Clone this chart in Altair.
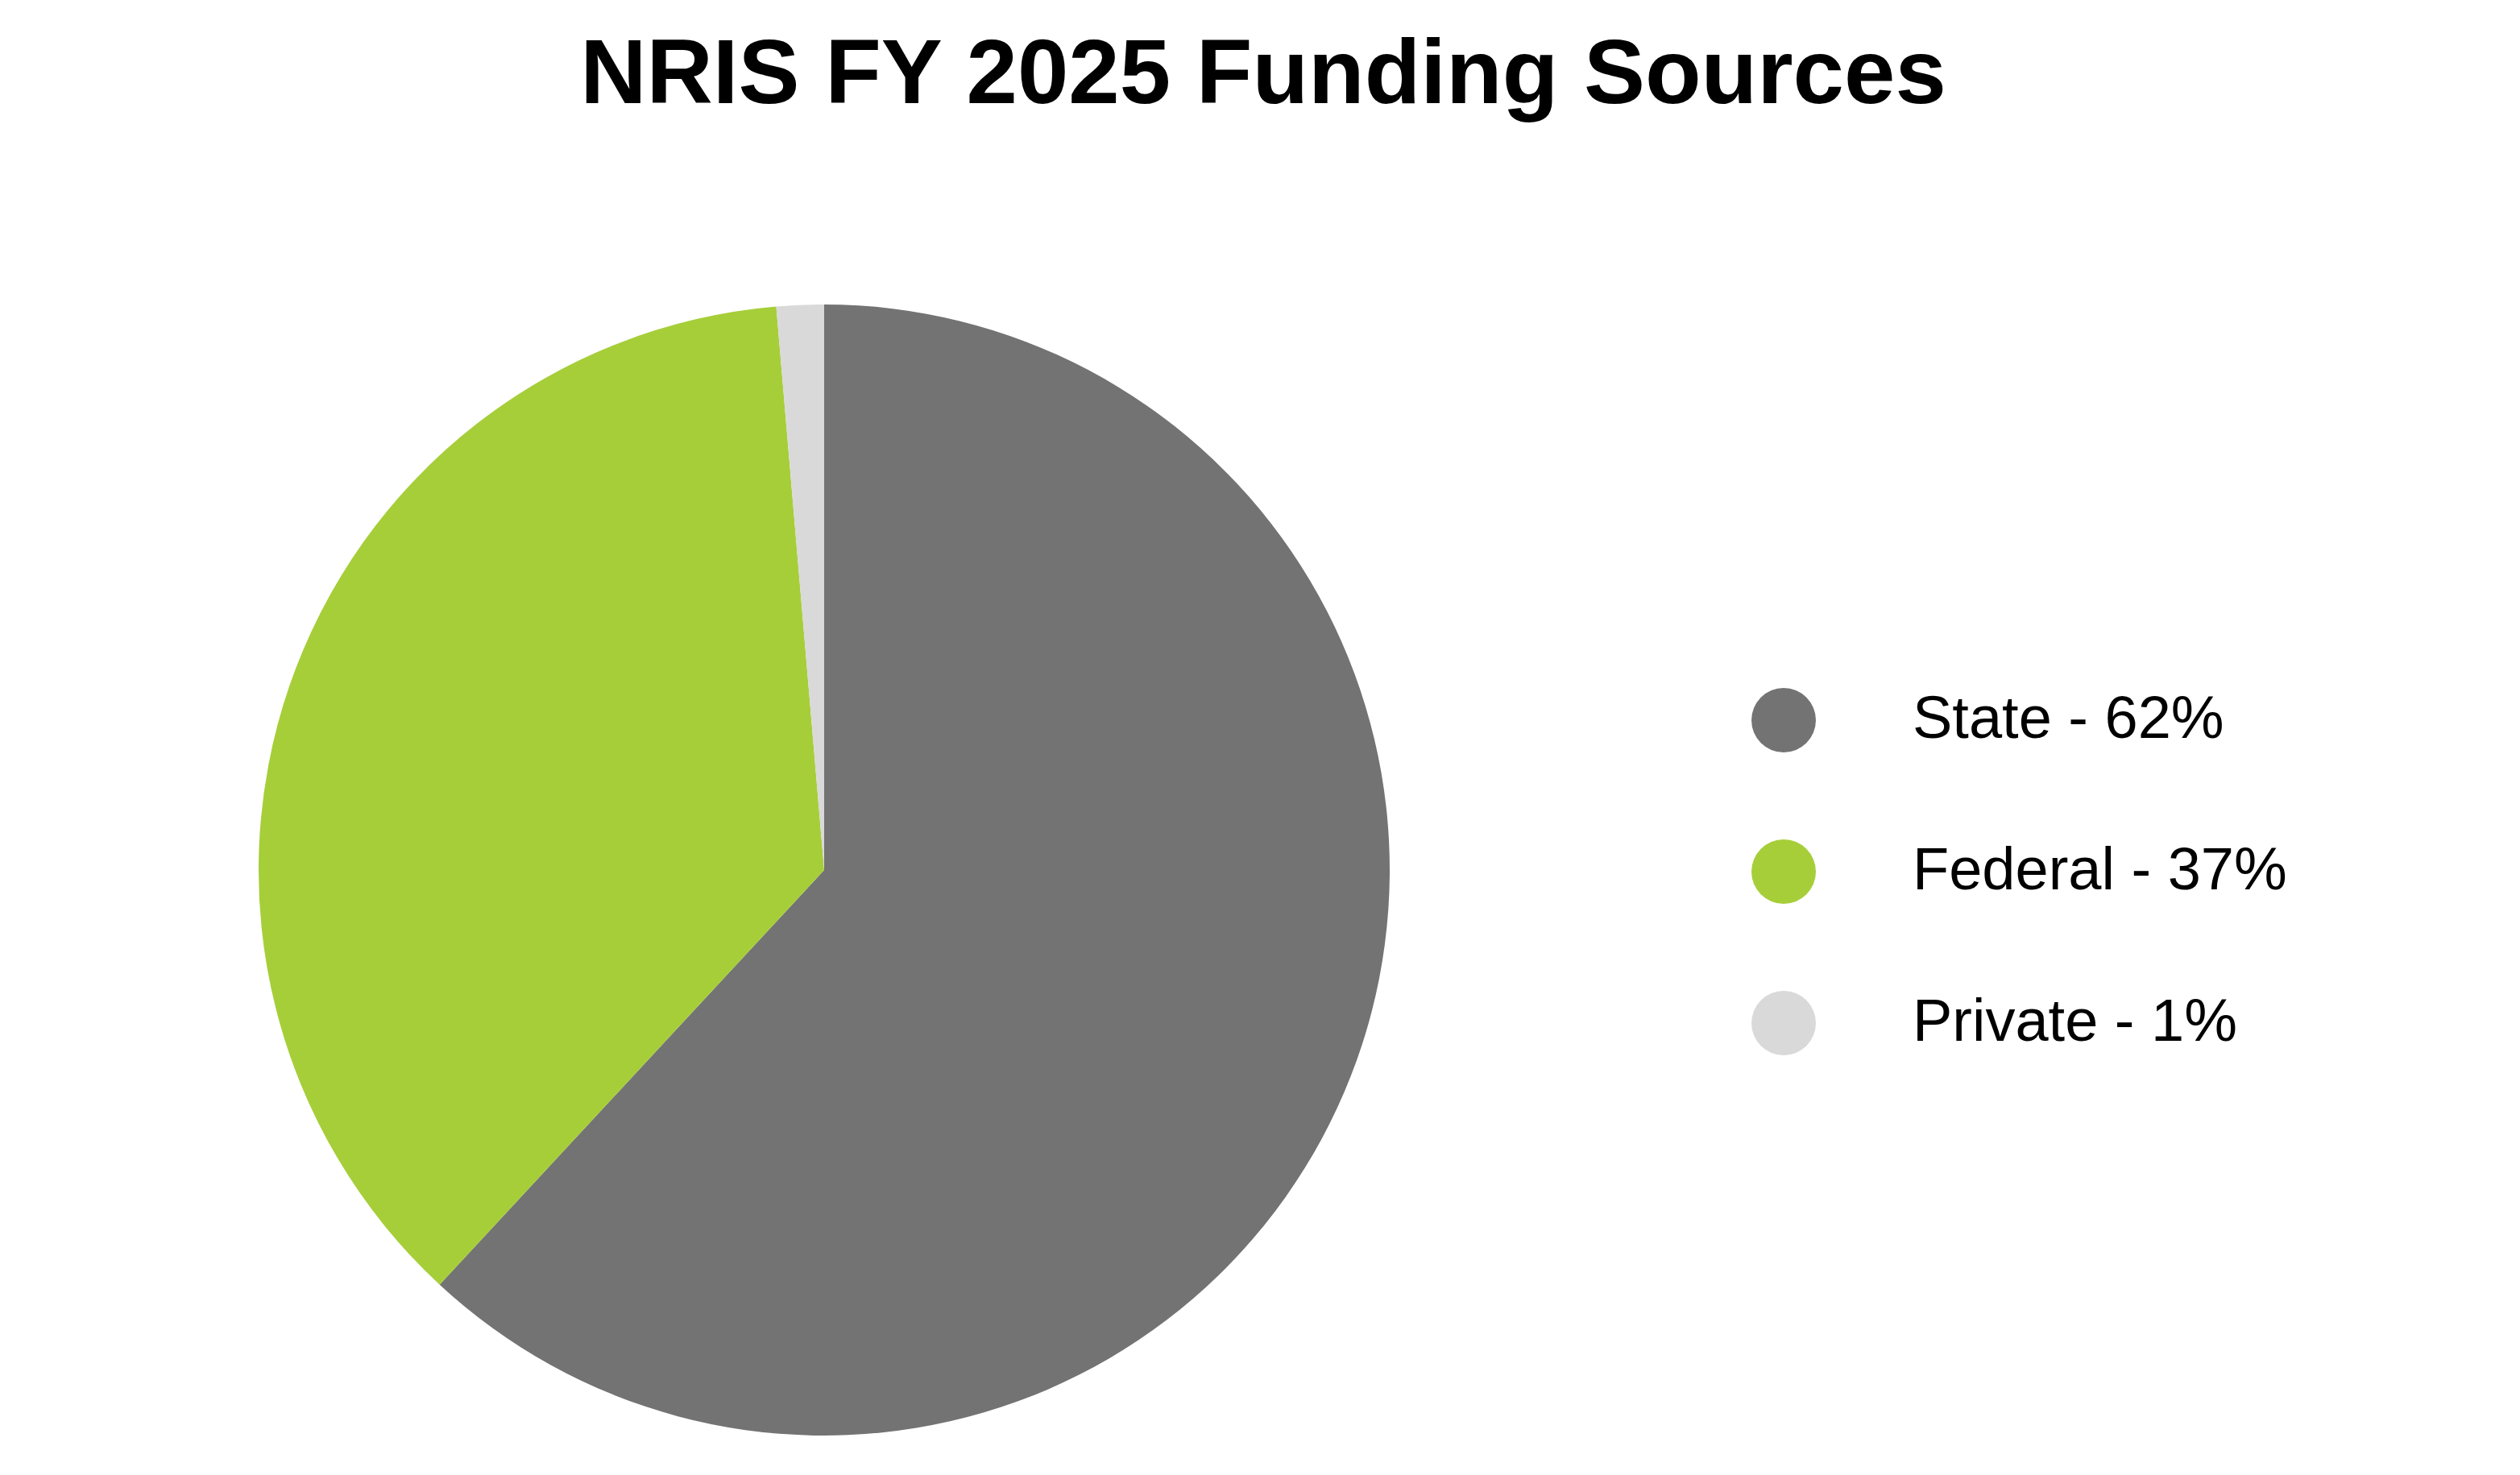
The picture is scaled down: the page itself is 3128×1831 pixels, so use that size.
import altair as alt
import pandas as pd

sources = ["State", "Federal", "Private"]
shares = [61.9, 36.75, 1.35]
labels = ["State - 62%", "Federal - 37%", "Private - 1%"]
colors = ["#737373", "#A6CE39", "#D9D9D9"]
order = [1, 2, 3]

df = pd.DataFrame({"source": sources, "share": shares, "label": labels, "order": order})

chart = (
    alt.Chart(df)
    .mark_arc(outerRadius=702, strokeWidth=0)
    .encode(
        theta=alt.Theta("share:Q", stack=True),
        color=alt.Color(
            "label:N",
            scale=alt.Scale(domain=labels, range=colors),
            legend=alt.Legend(
                title=None,
                orient="none",
                legendX=2166,
                legendY=482,
                symbolType="circle",
                symbolSize=6400,
                symbolStrokeWidth=0,
                labelFontSize=74,
                labelFont="Liberation Sans",
                labelColor="black",
                labelOffset=120,
                rowPadding=108,
                labelLimit=2000,
            ),
        ),
        order=alt.Order("order:Q"),
    )
    .properties(
        width=2030,
        height=1416,
        autosize=alt.AutoSizeParams(type="none"),
        padding={"left": 0, "top": 364, "right": 1082, "bottom": 43},
        title=alt.TitleParams(
            "NRIS FY 2025 Funding Sources",
            font="Liberation Sans",
            fontSize=114,
            fontWeight="bold",
            color="black",
            anchor="middle",
            dx=545,
            offset=220,
        ),
    )
    .configure_view(stroke=None)
)

chart.save("out.html", embed_options={"renderer": "svg", "actions": False})
